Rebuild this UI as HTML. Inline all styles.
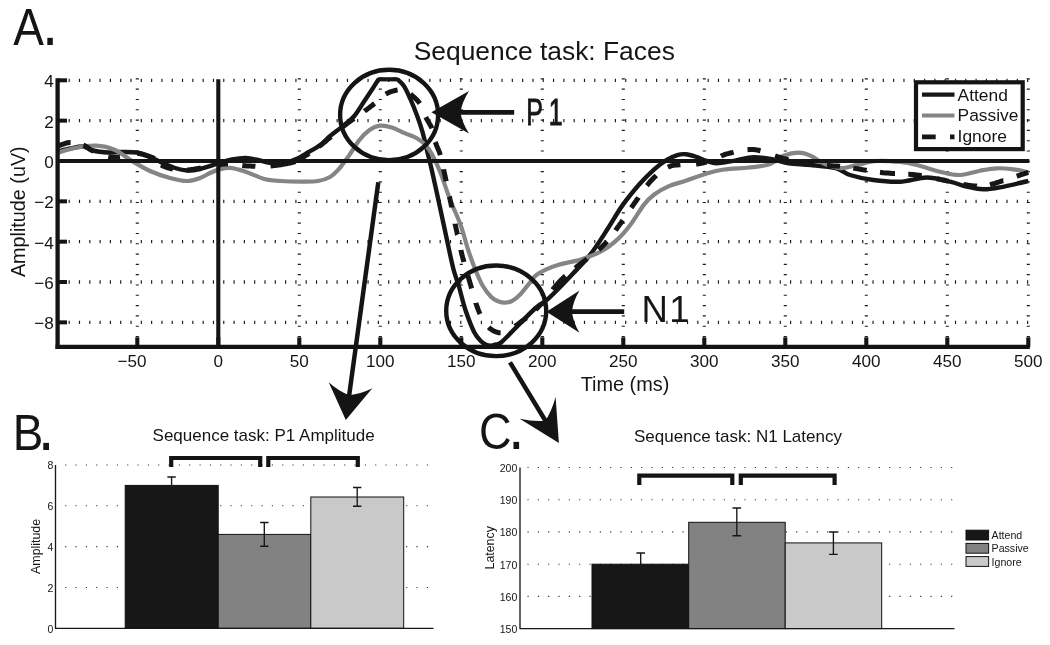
<!DOCTYPE html>
<html lang="en"><head><meta charset="utf-8"><title>Sequence task: Faces</title>
<style>
html,body{margin:0;padding:0;background:#fff;}
body{width:1050px;height:645px;overflow:hidden;}
svg{display:block;}
text{font-family:"Liberation Sans",sans-serif;fill:#151515;}
.lab{font-family:"Liberation Sans","DejaVu Sans",sans-serif;}
</style></head><body>
<svg width="1050" height="645" viewBox="0 0 1050 645">
<rect width="1050" height="645" fill="#fff"/>
<defs><clipPath id="ca"><rect x="56" y="77.6" width="974" height="271"/></clipPath></defs>

<g stroke="#1a1a1a" stroke-width="3.3" stroke-dasharray="1.15 9.156" fill="none">
<path d="M58.3 80.32H1029.3"/>
<path d="M58.3 120.66H1029.3"/>
<path d="M58.3 201.34H1029.3"/>
<path d="M58.3 241.68H1029.3"/>
<path d="M58.3 282.02H1029.3"/>
<path d="M58.3 322.36H1029.3"/>
</g>
<g stroke="#1a1a1a" stroke-width="3.1" stroke-dasharray="1.15 9.156" fill="none">
<path d="M137.30 347.4V77.3"/>
<path d="M299.30 347.4V77.3"/>
<path d="M380.30 347.4V77.3"/>
<path d="M461.30 347.4V77.3"/>
<path d="M542.30 347.4V77.3"/>
<path d="M623.30 347.4V77.3"/>
<path d="M704.30 347.4V77.3"/>
<path d="M785.30 347.4V77.3"/>
<path d="M866.30 347.4V77.3"/>
<path d="M947.30 347.4V77.3"/>
<path d="M1028.30 347.4V77.3"/>
</g>
<g clip-path="url(#ca)" fill="none" stroke-linejoin="round">
<path d="M58.0 151.5C60.0 151.0 65.8 149.3 70.0 148.5C74.2 147.7 79.2 146.2 83.0 146.5C86.8 146.8 88.8 149.5 93.0 150.5C97.2 151.5 103.5 152.2 108.0 152.5C112.5 152.8 115.2 152.0 120.0 152.0C124.8 152.0 132.0 151.7 137.0 152.5C142.0 153.3 145.9 155.3 150.0 157.0C154.1 158.7 157.3 160.7 161.5 162.5C165.7 164.3 170.8 166.7 175.0 168.0C179.2 169.3 182.8 170.3 187.0 170.5C191.2 170.7 194.8 170.2 200.0 169.0C205.2 167.8 212.7 165.1 218.0 163.5C223.3 161.9 227.3 160.4 232.0 159.5C236.7 158.6 241.7 157.9 246.0 158.0C250.3 158.1 254.0 159.2 258.0 160.0C262.0 160.8 265.3 162.4 270.0 162.8C274.7 163.2 281.5 163.2 286.0 162.5C290.5 161.8 293.3 160.5 297.0 158.8C300.7 157.1 304.2 154.8 308.0 152.5C311.8 150.2 316.3 148.1 320.0 145.3C323.7 142.5 326.5 139.0 330.2 135.9C333.9 132.8 338.2 129.9 342.2 126.6C346.2 123.3 350.4 120.6 354.1 116.3C357.8 112.0 361.3 105.7 364.4 101.0C367.5 96.3 370.3 92.0 372.9 88.2C375.4 84.4 377.2 81.0 379.7 78.0C382.2 75.0 385.3 70.0 388.0 70.0C390.7 70.0 393.4 75.4 396.0 78.0C398.6 80.6 401.2 82.1 403.6 85.6C406.0 89.1 408.1 94.1 410.4 99.2C412.7 104.3 415.3 110.9 417.3 116.3C419.3 121.7 420.8 126.1 422.4 131.7C424.0 137.3 425.3 143.4 426.9 150.0C428.5 156.6 429.8 161.4 432.0 171.0C434.2 180.6 437.5 196.0 440.0 207.5C442.5 219.0 444.8 229.8 447.0 240.0C449.2 250.2 451.4 261.3 453.4 269.0C455.4 276.7 456.8 279.1 458.8 286.0C460.8 292.9 463.1 302.9 465.6 310.5C468.2 318.1 471.5 326.8 474.1 331.9C476.7 337.0 479.0 339.2 481.0 341.3C483.0 343.4 484.4 344.0 486.1 344.7C487.8 345.4 489.5 345.7 491.2 345.6C492.9 345.6 494.6 345.0 496.3 344.4C498.0 343.8 498.3 344.8 501.4 342.2C504.5 339.6 509.4 334.2 515.1 328.5C520.8 322.8 529.9 313.1 535.6 308.0C541.3 302.9 543.0 303.5 549.2 297.8C555.4 292.1 565.6 281.4 572.6 274.0C579.6 266.6 585.5 260.8 591.4 253.1C597.3 245.4 603.0 236.0 608.2 228.0C613.4 220.0 617.6 212.2 622.8 204.9C628.0 197.6 634.4 189.9 639.6 184.0C644.8 178.1 649.7 173.3 654.2 169.3C658.7 165.3 662.9 162.3 666.8 159.9C670.6 157.5 674.1 156.1 677.3 155.1C680.4 154.1 682.6 153.9 685.7 154.2C688.8 154.5 692.6 155.7 696.1 156.8C699.6 157.9 703.2 159.8 706.6 160.9C710.0 162.0 712.0 163.3 716.6 163.3C721.2 163.3 727.8 161.8 734.0 160.8C740.2 159.8 747.2 157.3 753.8 157.1C760.4 156.9 767.9 158.6 773.7 159.6C779.5 160.6 782.4 162.4 788.6 163.3C794.8 164.2 803.1 164.2 811.0 165.0C818.9 165.8 829.2 166.5 835.7 168.2C842.2 169.9 843.7 173.0 850.0 175.0C856.3 177.0 865.0 178.9 873.3 180.0C881.6 181.1 891.1 182.1 900.0 181.7C908.9 181.3 918.4 177.5 926.7 177.5C935.0 177.5 943.3 180.2 950.0 181.7C956.7 183.2 961.2 185.4 966.7 186.7C972.2 188.0 977.8 189.2 983.3 189.3C988.8 189.4 992.5 188.7 1000.0 187.3C1007.5 185.9 1023.6 182.1 1028.3 181.0" stroke="#161616" stroke-width="4.4"/>
<path d="M58.0 152.6C60.8 151.8 68.7 149.2 75.0 148.0C81.3 146.8 89.3 145.4 96.0 145.7C102.7 146.0 109.0 147.4 115.0 150.0C121.0 152.6 126.2 157.5 132.0 161.0C137.8 164.5 143.7 168.2 150.0 171.0C156.3 173.8 163.8 176.3 170.0 178.0C176.2 179.7 182.0 181.0 187.0 181.0C192.0 181.0 196.2 179.3 200.0 178.0C203.8 176.7 207.0 174.3 210.0 173.0C213.0 171.7 214.7 170.8 218.0 169.9C221.3 169.1 225.3 167.6 230.0 167.9C234.7 168.2 240.6 170.1 246.3 171.9C252.0 173.8 258.7 177.5 264.4 179.0C270.1 180.5 274.6 180.6 280.6 181.0C286.7 181.4 294.5 181.6 300.7 181.6C306.9 181.6 313.1 181.8 318.0 181.0C322.9 180.2 326.5 179.0 330.0 177.0C333.5 175.0 335.6 172.8 338.8 169.2C342.0 165.6 345.6 160.4 349.0 155.6C352.4 150.8 355.8 144.5 359.2 140.2C362.6 135.9 366.1 132.4 369.5 130.0C372.9 127.6 376.0 126.1 379.7 125.7C383.4 125.3 387.4 126.1 391.7 127.4C396.0 128.7 401.0 131.6 405.3 133.4C409.6 135.2 413.9 136.5 417.3 138.5C420.7 140.5 423.2 142.5 425.8 145.3C428.4 148.2 430.2 151.1 432.6 155.6C435.0 160.1 437.3 164.8 440.3 172.3C443.3 179.8 447.0 191.8 450.4 200.5C453.8 209.2 457.5 216.4 460.5 224.7C463.5 232.9 465.8 242.7 468.2 250.0C470.6 257.4 472.6 262.8 475.0 268.8C477.4 274.8 480.0 281.1 482.7 285.8C485.4 290.5 488.6 294.3 491.2 296.9C493.8 299.5 495.7 300.2 498.0 301.2C500.3 302.1 502.5 302.6 504.8 302.6C507.1 302.6 509.1 302.6 511.7 301.2C514.3 299.8 517.4 297.2 520.2 294.4C523.0 291.5 526.1 287.2 528.7 284.1C531.3 281.0 532.8 278.0 535.6 275.6C538.5 273.2 541.8 271.5 545.8 269.6C549.8 267.8 553.6 266.2 559.5 264.5C565.4 262.8 573.8 261.6 580.9 259.4C588.0 257.1 595.6 254.5 601.9 251.0C608.2 247.5 613.7 242.9 618.6 238.4C623.5 233.9 627.0 229.4 631.2 223.8C635.4 218.2 640.0 209.8 643.8 204.9C647.6 200.0 650.0 197.6 654.2 194.5C658.4 191.4 663.6 188.4 668.9 186.1C674.1 183.8 679.4 182.9 685.7 180.8C692.0 178.7 700.2 175.4 706.6 173.5C713.0 171.6 717.0 170.5 724.0 169.5C731.0 168.5 741.4 168.3 748.9 167.5C756.4 166.7 762.9 166.4 768.7 164.5C774.5 162.6 778.6 157.8 783.6 155.8C788.6 153.8 793.9 152.6 798.5 152.6C803.1 152.6 806.9 154.0 811.0 155.8C815.1 157.6 818.3 161.2 823.3 163.3C828.2 165.4 835.1 167.9 840.7 168.2C846.3 168.5 850.7 166.2 856.7 165.0C862.7 163.8 869.5 161.5 876.7 161.0C883.9 160.5 893.3 161.3 900.0 162.0C906.7 162.7 910.0 163.4 916.7 165.0C923.4 166.6 932.8 170.0 940.0 171.7C947.2 173.4 953.3 175.2 960.0 175.0C966.7 174.8 973.9 171.8 980.0 170.7C986.1 169.6 991.2 168.5 996.7 168.3C1002.2 168.1 1008.0 168.6 1013.3 169.3C1018.6 170.0 1025.8 171.8 1028.3 172.3" stroke="#858585" stroke-width="4.2"/>
<path d="M58.0 146.0L58.4 145.9L58.9 145.7L59.5 145.5L60.1 145.2L60.8 145.0L61.6 144.7L62.4 144.4L63.2 144.1L64.0 143.8L64.9 143.5L65.8 143.3L66.6 143.0L67.5 142.8L68.4 142.7L69.2 142.6L70.0 142.5L70.6 142.5M83.4 145.2L83.7 145.3L84.4 145.6L85.0 145.9L85.6 146.3L86.2 146.6L86.8 147.0L87.3 147.4L87.9 147.8L88.4 148.2L89.0 148.6L89.6 149.0L90.2 149.5L90.9 149.9L91.5 150.2L92.2 150.6L93.0 151.0L93.5 151.2M108.3 156.6L108.8 156.7L109.6 156.8L110.4 157.0L111.1 157.1L111.8 157.2L112.5 157.2L113.2 157.3L113.9 157.3L114.6 157.3L115.3 157.3L116.0 157.3L116.7 157.3L117.5 157.2L118.3 157.2L119.1 157.1L120.0 157.0M137.5 153.4L138.1 153.5L139.2 153.6L140.4 153.8L141.6 154.1L142.8 154.3L144.0 154.7L145.3 155.0L146.5 155.4L147.6 155.8L148.8 156.2L149.9 156.6L151.0 157.0L152.0 157.4L152.9 157.8L153.8 158.2L154.6 158.6M161.0 165.0L161.6 165.3L162.2 165.6L162.9 165.9L163.6 166.2L164.3 166.5L165.0 166.8L165.8 167.1L166.5 167.3L167.3 167.6L168.1 167.8L168.9 168.1L169.7 168.3L170.5 168.5L171.4 168.7L172.2 168.8L173.0 169.0M187.0 170.0L187.9 170.0L188.7 169.9L189.6 169.8L190.4 169.7L191.3 169.6L192.1 169.5L193.0 169.4L193.8 169.2L194.7 169.1L195.5 169.0L196.4 168.8L197.3 168.6L198.2 168.5L199.1 168.3L200.0 168.2L201.0 168.0M218.0 165.0L218.9 164.9L219.7 164.8L220.5 164.6L221.2 164.5L221.9 164.4L222.6 164.3L223.3 164.3L223.9 164.2L224.6 164.1L225.3 164.1L226.0 164.0L226.7 164.0L227.5 164.0L228.0 164.0M242.3 165.5L243.1 165.6L244.3 165.7L245.5 165.8L246.8 165.9L248.0 166.0L249.3 166.1L250.6 166.1L251.9 166.2L253.3 166.2L254.6 166.2L255.4 166.3M270.5 166.0L271.3 165.9L272.7 165.8L274.0 165.6L275.4 165.5L276.7 165.3L278.1 165.1L279.4 164.9L280.8 164.8L282.0 164.5L283.3 164.3L284.6 164.1L285.8 163.9L286.9 163.7L288.0 163.4L289.0 163.2L290.0 163.0L290.9 162.8L291.7 162.6L292.4 162.4L293.0 162.3L293.6 162.1L294.1 161.9L294.6 161.8L294.7 161.7M296.7 160.8L297.1 160.6L297.7 160.3L298.4 159.9L299.1 159.5L300.0 159.0L300.9 158.5L301.9 157.9L302.9 157.3L304.0 156.6L305.1 155.9L306.3 155.2L307.5 154.5L308.7 153.7L308.8 153.6M318.9 146.6L319.0 146.5L320.3 145.5L321.8 144.4L323.2 143.2L324.7 142.0L326.3 140.7L327.8 139.4L329.4 138.1L330.9 136.8L331.0 136.7M343.0 126.7L343.1 126.7L344.0 125.9L345.0 125.2L345.8 124.5L346.6 123.9L347.4 123.3L348.1 122.8L348.8 122.3L349.5 121.8L350.1 121.3L350.7 120.9L351.4 120.4L352.0 119.9L352.7 119.5L353.3 119.0L354.0 118.5M364.4 111.2L365.0 110.7L365.7 110.3L366.3 109.8L366.9 109.3L367.6 108.9L368.2 108.4L368.8 108.0L369.5 107.5L370.1 107.0L370.7 106.5L371.4 106.0L372.0 105.6L372.6 105.1L373.3 104.5L373.9 104.0L374.6 103.5M385.7 94.1L386.4 93.7L387.2 93.3L388.0 92.9L388.7 92.6L389.5 92.2L390.3 91.9L391.1 91.6L391.9 91.4L392.7 91.1L393.5 90.9L394.3 90.7L395.0 90.5L395.7 90.3L396.4 90.2L397.0 90.0L397.6 89.9M410.4 94.1L410.9 94.5L411.5 95.0L412.0 95.4L412.6 95.9L413.2 96.5L413.9 97.0L414.5 97.6L415.1 98.2L415.8 98.8L416.4 99.4L417.0 100.1L417.6 100.7L418.2 101.4L418.8 102.1L419.3 102.8L419.8 103.5M425.8 117.2L426.2 118.0L426.6 118.7L427.0 119.4L427.4 120.1L427.8 120.8L428.2 121.4L428.6 122.1L429.0 122.8L429.3 123.4L429.7 124.1L430.1 124.7L430.5 125.4L430.8 126.1L431.2 126.8L431.5 127.5L431.8 128.3M435.3 142.0L435.6 142.8L435.9 143.6L436.2 144.4L436.5 145.2L436.8 145.9L437.1 146.7L437.4 147.4L437.7 148.2L438.1 148.9L438.4 149.7L438.7 150.5L439.1 151.4L439.4 152.2L439.7 153.1L440.0 154.1L440.3 155.1M443.6 169.2L443.6 169.4L443.9 170.7L444.2 172.1L444.5 173.5L444.8 175.0L445.1 176.5L445.5 178.0L445.8 179.6L446.2 181.3L446.2 181.3M449.4 196.5L449.5 196.8L449.9 198.6L450.2 200.3L450.6 202.0L451.0 203.7L451.3 205.4L451.7 207.1L451.7 207.5M455.1 223.7L455.1 223.9L455.5 225.6L455.8 227.3L456.2 229.0L456.6 230.7L457.0 232.5L457.3 234.3L457.5 234.8M460.9 250.0L460.9 250.2L461.3 251.8L461.6 253.3L462.0 254.7L462.3 256.0L462.6 257.2L462.9 258.2L463.1 259.2L463.3 260.0L463.6 260.8L463.8 261.5L463.9 262.0M467.9 275.6L467.9 275.6L468.3 276.9L468.6 278.1L469.0 279.4L469.4 280.7L469.7 282.0L470.1 283.3L470.5 284.6L470.9 285.9L471.2 287.1L471.6 288.4M475.9 302.9L475.9 303.0L476.3 304.3L476.7 305.5L477.1 306.7L477.5 307.8L477.9 308.9L478.3 309.9L478.7 310.9L479.1 311.8L479.5 312.8L479.9 313.6L480.1 314.0M488.6 327.2L488.9 327.5L489.3 327.9L489.8 328.3L490.2 328.7L490.7 329.0L491.2 329.4L491.7 329.7L492.3 330.1L492.8 330.4L493.4 330.7L493.9 331.0L494.5 331.3L495.1 331.6L495.7 331.8L496.3 332.0L497.0 332.2L497.6 332.4L498.2 332.6L498.8 332.7L499.4 332.7L500.0 332.8L500.6 332.8M515.1 326.1L515.2 326.0L515.8 325.6L516.5 325.2L517.1 324.8L517.8 324.3L518.6 323.7L519.4 323.1L520.2 322.5L521.1 321.8L522.0 321.2L522.9 320.4L523.9 319.7L524.9 319.0L525.9 318.2L526.2 317.9M535.6 309.7L536.1 309.2L537.3 308.0L538.6 306.7L539.9 305.2L541.0 303.9M552.6 289.6L552.8 289.3L554.3 287.6L555.6 285.9L557.0 284.4L558.3 282.9L559.5 281.6L560.7 280.4L561.7 279.3L562.8 278.3L563.7 277.4L564.6 276.6L565.4 275.9M575.2 268.1L575.7 267.7L577.1 266.5L578.6 265.3L580.3 264.1L582.0 262.8L583.8 261.4L585.6 260.0L587.0 258.9M598.7 249.6L600.0 248.5L601.5 247.1L602.9 245.8L604.2 244.5L605.5 243.2L606.6 241.9L607.1 241.4M615.5 230.4L616.2 229.4L617.2 228.1L618.1 226.7L619.1 225.4L620.1 224.0L621.1 222.6L622.1 221.2L622.8 220.2M631.2 207.8L632.0 206.7L633.0 205.3L634.0 203.8L635.0 202.4L636.0 201.0L637.0 199.5L638.1 198.1L638.5 197.4M646.9 185.7L647.4 185.1L648.4 183.8L649.4 182.5L650.5 181.3L651.5 180.2L652.5 179.1L653.6 178.1L654.6 177.0L655.7 176.1L656.3 175.5M667.9 167.2L668.8 166.8L669.6 166.4L670.4 166.1L671.2 165.8L672.0 165.6L672.7 165.4L673.5 165.3L674.2 165.2L674.9 165.1L675.6 165.0L676.4 165.0L677.1 164.9L677.9 164.9L678.7 164.8L679.5 164.8L680.4 164.7M696.1 164.1L696.9 164.0L697.7 163.9L698.4 163.8L699.1 163.7L699.8 163.6L700.5 163.5L701.1 163.4L701.7 163.2L702.4 163.1L703.0 163.0L703.6 162.8L704.2 162.7L704.8 162.5L705.4 162.3L706.0 162.2L706.6 162.0M721.0 156.2L721.5 155.9L722.3 155.6L723.1 155.2L723.9 154.9L724.8 154.5L725.8 154.2L726.8 153.9L727.9 153.6L729.0 153.3L730.2 153.0L731.5 152.7L732.9 152.4L733.6 152.2M747.5 149.7L749.0 149.6L750.6 149.5L752.2 149.5L753.8 149.6L755.4 149.8L756.9 150.0L758.5 150.3L760.1 150.7L760.5 150.8M775.0 155.8L775.8 156.1L777.2 156.6L778.7 157.0L780.1 157.4L781.6 157.8L783.0 158.3L784.4 158.7L785.8 159.1L787.2 159.5L788.4 159.9M801.0 163.2L801.2 163.2L802.2 163.4L803.3 163.6L804.3 163.8L805.2 163.9L806.2 164.1L807.1 164.2L808.0 164.3L809.0 164.4L809.9 164.4L810.9 164.5L811.9 164.6L813.0 164.7L814.0 164.8M827.0 165.5L828.5 165.6L830.2 165.7L831.9 165.8L833.7 165.9L835.5 166.0L837.3 166.1L839.3 166.3L840.0 166.4M853.3 168.1L855.0 168.4L857.6 168.8L860.2 169.2L862.9 169.7L865.5 170.1L866.7 170.3M880.0 172.3L881.0 172.4L883.3 172.7L885.6 172.9L887.8 173.1L890.1 173.3L892.3 173.5L894.5 173.6L895.0 173.6M908.3 174.3L909.0 174.3L911.0 174.5L912.9 174.6L914.8 174.8L916.7 175.0L918.6 175.2L920.4 175.5L921.7 175.7M936.7 178.6L937.0 178.7L938.6 179.0L940.2 179.4L941.7 179.7L943.3 180.0L944.9 180.3L946.4 180.7L948.0 181.0L948.3 181.1M963.3 184.4L964.1 184.6L965.4 184.8L966.7 185.0L967.9 185.2L969.1 185.4L970.2 185.5L971.3 185.7L972.4 185.8L973.4 185.9L974.4 186.0L975.4 186.1L976.4 186.1L976.7 186.2M990.0 184.8L990.9 184.5L991.9 184.2L992.9 183.9L993.9 183.6L995.0 183.3L996.1 182.9L997.4 182.5L998.6 182.1L1000.0 181.7L1001.5 181.2L1003.2 180.7L1003.3 180.7M1016.7 176.2L1017.3 176.0L1019.3 175.4L1021.2 174.7L1022.9 174.1L1024.6 173.6L1026.0 173.1L1027.3 172.6L1028.3 172.3" stroke="#161616" stroke-width="5"/>
</g>
<path d="M379 79.3H396.6" stroke="#161616" stroke-width="4.2" fill="none"/>
<g stroke="#141414" fill="none">
<path d="M57.8 161.0H1029.3" stroke-width="4"/>
<path d="M218.3 79.3V346.8" stroke-width="4.1"/>
<path d="M57.6 78.3V348.9" stroke-width="4.3"/>
<path d="M55.5 346.8H1029.8" stroke-width="4.2"/>
<path d="M57.8 80.32H67.0" stroke-width="4"/>
<path d="M57.8 120.66H67.0" stroke-width="4"/>
<path d="M57.8 161.00H67.0" stroke-width="4"/>
<path d="M57.8 201.34H67.0" stroke-width="4"/>
<path d="M57.8 241.68H67.0" stroke-width="4"/>
<path d="M57.8 282.02H67.0" stroke-width="4"/>
<path d="M57.8 322.36H67.0" stroke-width="4"/>
<path d="M137.30 346.8V337.3" stroke-width="4.1"/>
<path d="M218.30 346.8V337.3" stroke-width="4.1"/>
<path d="M299.30 346.8V337.3" stroke-width="4.1"/>
<path d="M380.30 346.8V337.3" stroke-width="4.1"/>
<path d="M461.30 346.8V337.3" stroke-width="4.1"/>
<path d="M542.30 346.8V337.3" stroke-width="4.1"/>
<path d="M623.30 346.8V337.3" stroke-width="4.1"/>
<path d="M704.30 346.8V337.3" stroke-width="4.1"/>
<path d="M785.30 346.8V337.3" stroke-width="4.1"/>
<path d="M866.30 346.8V337.3" stroke-width="4.1"/>
<path d="M947.30 346.8V337.3" stroke-width="4.1"/>
<path d="M1028.30 346.8V337.3" stroke-width="4.1"/>
</g>
<g font-size="17.1px" text-anchor="end">
<text x="53.8" y="87.3">4</text>
<text x="53.8" y="127.7">2</text>
<text x="53.8" y="168.0">0</text>
<text x="53.8" y="208.3">−2</text>
<text x="53.8" y="248.7">−4</text>
<text x="53.8" y="289.0">−6</text>
<text x="53.8" y="329.4">−8</text>
</g>
<g font-size="17.1px" text-anchor="middle">
<text x="132.1" y="367">−50</text>
<text x="218.3" y="367">0</text>
<text x="299.3" y="367">50</text>
<text x="380.3" y="367">100</text>
<text x="461.3" y="367">150</text>
<text x="542.3" y="367">200</text>
<text x="623.3" y="367">250</text>
<text x="704.3" y="367">300</text>
<text x="785.3" y="367">350</text>
<text x="866.3" y="367">400</text>
<text x="947.3" y="367">450</text>
<text x="1028.3" y="367">500</text>
</g>
<text x="544.3" y="60" font-size="26.4px" text-anchor="middle">Sequence task: Faces</text>
<text x="625" y="390.7" font-size="19.9px" text-anchor="middle">Time (ms)</text>
<text transform="translate(25 211.7) rotate(-90)" font-size="19.8px" text-anchor="middle">Amplitude (uV)</text>
<rect x="916" y="82.3" width="106.7" height="66.8" fill="#fff" stroke="#141414" stroke-width="4.2"/>
<path d="M922 94.6H954.5" stroke="#161616" stroke-width="4.2"/>
<path d="M922 115.5H954.5" stroke="#858585" stroke-width="4.2"/>
<path d="M922 136.8H935.7M950 136.8H954.5" stroke="#161616" stroke-width="4.8"/>
<g font-size="17.4px"><text x="957.6" y="100.6">Attend</text><text x="957.6" y="121.4">Passive</text><text x="957.6" y="142.4">Ignore</text></g>
<g fill="none" stroke="#141414" stroke-width="4.4">
<ellipse cx="389.1" cy="115" rx="49" ry="45.2"/>
<ellipse cx="496.2" cy="310.8" rx="50" ry="45.3"/>
</g>
<path d="M514.2 112.3L458.4 112.3" stroke="#141414" stroke-width="4.8" fill="none"/><path d="M431.4 112.3L469.0 91.0Q462.2 101.7 460.4 112.3Q462.2 122.9 469.0 133.6Z" fill="#141414"/>
<path d="M624.2 311.7L569.9 311.7" stroke="#141414" stroke-width="4.8" fill="none"/><path d="M546.5 311.7L579.5 290.6Q573.2 301.1 571.9 311.7Q573.2 322.3 579.5 332.8Z" fill="#141414"/>
<path d="M378.3 182.3L348.9 397.2" stroke="#141414" stroke-width="4.5" fill="none"/><path d="M345.8 420.0L328.7 382.3Q338.6 391.3 349.2 395.2Q360.4 394.2 372.3 388.3Z" fill="#141414"/>
<path d="M510.0 362.3L546.5 422.5" stroke="#141414" stroke-width="4.5" fill="none"/><path d="M558.9 443.0L519.7 418.8Q533.9 421.9 545.4 420.8Q551.8 411.0 555.6 397.1Z" fill="#141414"/>
<g class="lab">
<text transform="translate(0 44.50) scale(0.8795 1)" font-size="52.3px" x="15.13 47.87" y="0">A<tspan font-size="66.0px">.</tspan></text>
<text transform="translate(0 449.50) scale(0.9132 1)" font-size="50.2px" x="13.84 41.28" y="0">B<tspan font-size="66.0px">.</tspan></text>
<text transform="translate(0 448.70) scale(0.9032 1)" font-size="50.0px" x="530.23 562.39" y="0">C<tspan font-size="66.0px">.</tspan></text>
<text transform="translate(0 125.30) scale(0.6791 1)" font-size="36.8px" x="774.97 808.03" y="0" stroke="#151515" stroke-width="0.8" vector-effect="non-scaling-stroke">P1</text>
<text transform="translate(0 322.30) scale(0.9924 1)" font-size="36.8px" x="646.32 674.34" y="0">N1</text>
</g>
<g stroke="#2a2a2a" stroke-width="1.1" stroke-dasharray="1.1 9.233" fill="none">
<path d="M65.2 587.5H429.0"/>
<path d="M65.2 546.6H429.0"/>
<path d="M65.2 505.8H429.0"/>
<path d="M65.2 465.0H429.0"/>
</g>
<rect x="125.2" y="485.4" width="93.0" height="142.9" fill="#171717" stroke="#111" stroke-width="1"/>
<rect x="218.2" y="534.4" width="92.6" height="93.9" fill="#828282" stroke="#111" stroke-width="1"/>
<rect x="310.8" y="497.0" width="92.9" height="131.3" fill="#c9c9c9" stroke="#111" stroke-width="1"/>
<g stroke="#171717" stroke-width="1.35" fill="none">
<path d="M55.5 465.0V628.3"/>
<path d="M55.0 628.3H433.5"/>
<path d="M171.6 477.0V493.0M167.4 477.0h8.4M167.4 493.0h8.4"/>
<path d="M264.3 522.5V546.2M260.1 522.5h8.4M260.1 546.2h8.4"/>
<path d="M357.2 487.5V506.2M353.0 487.5h8.4M353.0 506.2h8.4"/>
</g>
<g stroke="#141414" stroke-width="4.2" fill="none" stroke-linejoin="miter">
<path d="M171.2 467V458H260.2V467"/><path d="M268.3 467V458H357.8V467"/>
</g>
<g font-size="10.5px" text-anchor="end">
<text x="53.3" y="632.6">0</text>
<text x="53.3" y="591.8">2</text>
<text x="53.3" y="550.9">4</text>
<text x="53.3" y="510.1">6</text>
<text x="53.3" y="469.3">8</text>
</g>
<text transform="translate(40 546.4) rotate(-90)" font-size="12.4px" text-anchor="middle">Amplitude</text>
<text x="263.6" y="441.4" font-size="17px" text-anchor="middle">Sequence task: P1 Amplitude</text>
<g stroke="#2a2a2a" stroke-width="1.1" stroke-dasharray="1.1 9.233" fill="none">
<path d="M527.5 596.4H956.0"/>
<path d="M527.5 564.2H956.0"/>
<path d="M527.5 531.9H956.0"/>
<path d="M527.5 499.7H956.0"/>
<path d="M527.5 467.5H956.0"/>
</g>
<rect x="592.0" y="564.2" width="96.7" height="64.4" fill="#171717" stroke="#111" stroke-width="1"/>
<rect x="688.7" y="522.3" width="96.5" height="106.3" fill="#828282" stroke="#111" stroke-width="1"/>
<rect x="785.2" y="542.9" width="96.5" height="85.7" fill="#c9c9c9" stroke="#111" stroke-width="1"/>
<g stroke="#171717" stroke-width="1.35" fill="none">
<path d="M520.0 467.5V628.6"/>
<path d="M519.5 628.6H954.5"/>
<path d="M640.7 553.0V575.0M636.4 553.0h8.6M636.4 575.0h8.6"/>
<path d="M736.8 508.0V535.7M732.5 508.0h8.6M732.5 535.7h8.6"/>
<path d="M833.4 532.0V554.3M829.1 532.0h8.6M829.1 554.3h8.6"/>
</g>
<g stroke="#141414" stroke-width="4.2" fill="none" stroke-linejoin="miter">
<path d="M639.3 485V475.6H732.3V485"/><path d="M740.8 485V475.6H834.6V485"/>
</g>
<g font-size="10.5px" text-anchor="end">
<text x="517.3" y="633.1">150</text>
<text x="517.3" y="600.9">160</text>
<text x="517.3" y="568.7">170</text>
<text x="517.3" y="536.4">180</text>
<text x="517.3" y="504.2">190</text>
<text x="517.3" y="472.0">200</text>
</g>
<text transform="translate(493.5 547.8) rotate(-90)" font-size="12.4px" text-anchor="middle">Latency</text>
<text x="738" y="442.2" font-size="17px" text-anchor="middle">Sequence task: N1 Latency</text>
<rect x="966" y="530.2" width="22.6" height="9.8" fill="#171717" stroke="#111" stroke-width="1"/>
<text x="991.6" y="539.1" font-size="10.6px">Attend</text>
<rect x="966" y="543.4" width="22.6" height="9.8" fill="#828282" stroke="#111" stroke-width="1"/>
<text x="991.6" y="552.3" font-size="10.6px">Passive</text>
<rect x="966" y="556.6" width="22.6" height="9.8" fill="#c9c9c9" stroke="#111" stroke-width="1"/>
<text x="991.6" y="565.5" font-size="10.6px">Ignore</text>
</svg></body></html>
